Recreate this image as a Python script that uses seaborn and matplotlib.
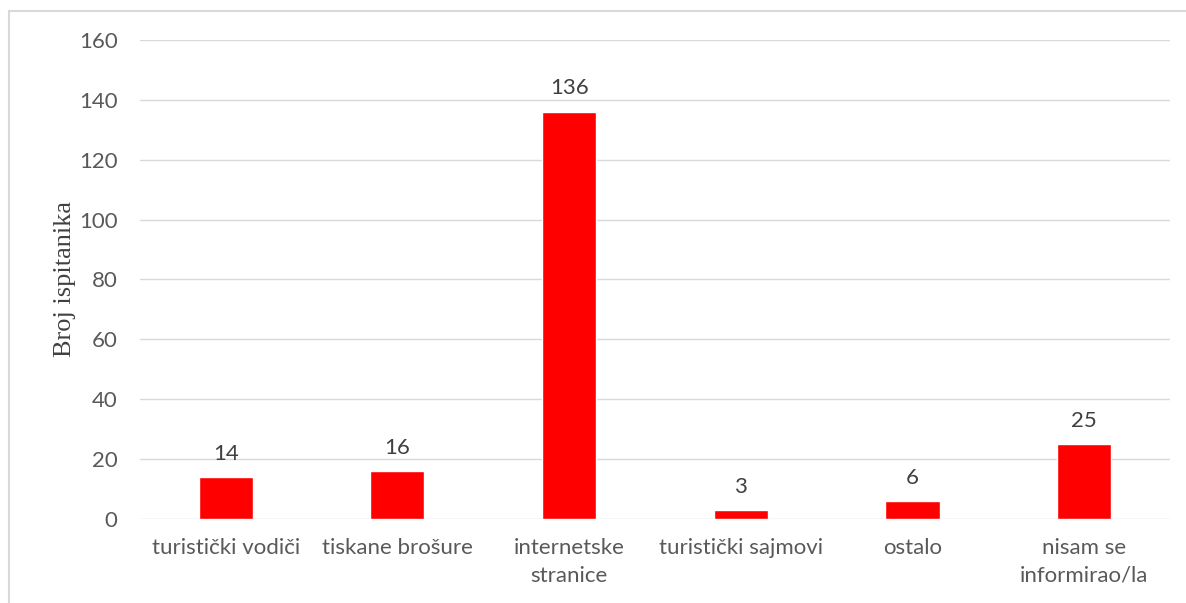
import pandas as pd
import matplotlib.pyplot as plt
import seaborn as sns
from matplotlib.patches import Rectangle

categories = ['turistički vodiči', 'tiskane brošure', 'internetske\nstranice',
              'turistički sajmovi', 'ostalo', 'nisam se\ninformirao/la']
counts = [14, 16, 136, 3, 6, 25]
yticks = [0, 20, 40, 60, 80, 100, 120, 140, 160]

df = pd.DataFrame({'kategorija': categories, 'broj': counts})

sns.set_style('white')
plt.rcParams['font.family'] = ['Lato', 'DejaVu Sans']

fig = plt.figure(figsize=(11.86, 6.03), dpi=100)
ax = fig.add_axes([0.118, 0.1393, 0.8685, 0.7944])

# outer chart frame (cut off at right / bottom like the screenshot)
fig.patches.append(Rectangle((9 / 1186, -0.1), 1.2, (603 - 11) / 603 + 0.1,
                             transform=fig.transFigure, fill=False,
                             edgecolor='#d9d9d9', lw=1.5))

sns.barplot(data=df, x='kategorija', y='broj', color='#ff0000', width=0.315,
            saturation=1, ax=ax, zorder=3)

for i, v in enumerate(counts):
    ax.text(i, v + 4.5, str(v), ha='center', va='bottom', fontsize=16, color='#404040')

ax.set_ylim(0, 160)
ax.set_yticks(yticks)
ax.set_xlim(-0.5, len(categories) - 0.5)
ax.yaxis.grid(True, color='#d9d9d9', lw=1, zorder=0)
ax.set_axisbelow(True)
for s in ax.spines.values():
    s.set_visible(False)

ax.tick_params(axis='both', length=0, labelsize=16, labelcolor='#595959')
ax.tick_params(axis='y', pad=16)
ax.tick_params(axis='x', pad=14)
for lbl in ax.get_xticklabels():
    lbl.set_linespacing(1.45)
ax.set_xlabel('')
ax.set_ylabel('Broj ispitanika', fontsize=19, color='#404040',
              family='Liberation Serif', labelpad=2)

plt.savefig('out.png', dpi=100)
